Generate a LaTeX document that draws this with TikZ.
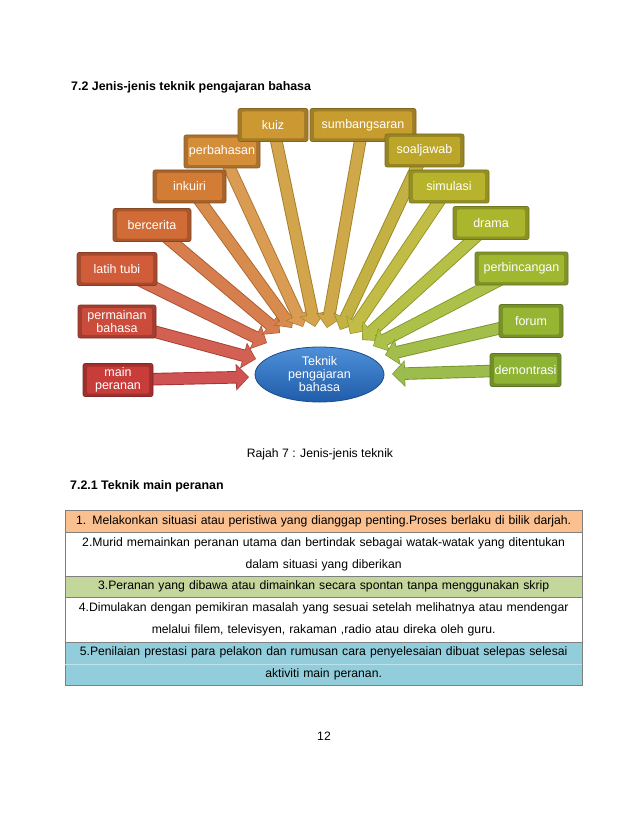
\documentclass[tikz,border=0pt]{standalone}
\usepackage{fontspec}
\setmainfont{Liberation Sans}
\usetikzlibrary{arrows.meta,shapes.geometric}
\pgfdeclarelayer{background}
\pgfsetlayers{background,main}
\definecolor{b1}{HTML}{C83C3A}
\definecolor{b2}{HTML}{CC4C3C}
\definecolor{b3}{HTML}{D05C3A}
\definecolor{b4}{HTML}{D26C36}
\definecolor{b5}{HTML}{D27C36}
\definecolor{b6}{HTML}{D48E3A}
\definecolor{b7}{HTML}{CC9832}
\definecolor{b8}{HTML}{C89D30}
\definecolor{b9}{HTML}{BBA62A}
\definecolor{b10}{HTML}{B8B32C}
\definecolor{b11}{HTML}{ACB62D}
\definecolor{b12}{HTML}{A0B830}
\definecolor{b13}{HTML}{96B532}
\definecolor{b14}{HTML}{8FB435}
\definecolor{rowA}{HTML}{FAC090}
\definecolor{rowC}{HTML}{C3D69B}
\definecolor{rowE}{HTML}{92CDDC}
\definecolor{tabline}{HTML}{7F7F7F}
\definecolor{ellTop}{HTML}{4F8FD8}
\definecolor{ellBot}{HTML}{1F5CAA}
\definecolor{ellLine}{HTML}{1A4C8C}
\tikzset{
  tbox/.style={rectangle, rounded corners=2pt, fill=#1!80!black, draw=#1!65!black,
    line width=0.6pt, text=white, font=\fontsize{12.5}{13}\selectfont, align=center,
    inner sep=0pt, minimum height=33pt,
    path picture={\fill[#1] ([shift={(4pt,3pt)}]path picture bounding box.south west)
      rectangle ([shift={(-4pt,-3pt)}]path picture bounding box.north east);}},
  arrout/.style={draw=#1!82!black, line width=12.5pt, -{Triangle[length=13pt,width=26pt]}},
  arrin/.style={draw=#1!88!white, line width=10.7pt, -{Triangle[length=11.5pt,width=23pt]}, shorten >=0.9pt},
  tabrow/.style={draw=tabline, line width=0.6pt, inner sep=0pt, text width=517.3pt,
    align=center, font=\fontsize{12.2}{22}\selectfont, anchor=north west},
  plain/.style={inner sep=0pt, font=\fontsize{12.2}{14}\selectfont},
  headb/.style={inner sep=0pt, font=\fontsize{12.4}{14}\selectfont\bfseries, anchor=base west}
}
\newcommand\fanarrow[3]{\draw[arrout=#1] (#2.center) -- (#3);\draw[arrin=#1] (#2.center) -- (#3);}
\begin{document}
\begin{tikzpicture}[x=1pt,y=-1pt]
\useasboundingbox (0,0) rectangle (638,826);
% headings
\node[headb] (h1) at (71,90.5) {7.2 Jenis-jenis teknik pengajaran bahasa};
% boxes
\node[tbox=b1, minimum width=70pt] (mainp) at (118,380) {main\\peranan};
\node[tbox=b2, minimum width=78pt] (perm) at (117,321.5) {permainan\\bahasa};
\node[tbox=b3, minimum width=80pt] (latih) at (117,269) {latih tubi};
\node[tbox=b4, minimum width=78pt] (berc) at (152,225) {bercerita};
\node[tbox=b5, minimum width=73pt] (inku) at (189.5,186.5) {inkuiri};
\node[tbox=b6, minimum width=76pt] (perb) at (222,151.5) {perbahasan};
\node[tbox=b7, minimum width=70pt] (kuiz) at (273,125) {kuiz};
\node[tbox=b8, minimum width=106pt] (sumb) at (363,125) {sumbangsaran};
\node[tbox=b9, minimum width=79pt] (soal) at (424.5,150.5) {soaljawab};
\node[tbox=b10, minimum width=80pt] (simu) at (449,186.5) {simulasi};
\node[tbox=b11, minimum width=76pt] (drama) at (491,223) {drama};
\node[tbox=b12, minimum width=93pt] (pbc) at (521.5,268.5) {perbincangan};
\node[tbox=b13, minimum width=64pt] (forum) at (531,321) {forum};
\node[tbox=b14, minimum width=71pt] (demo) at (525.5,370) {demontrasi};
% centre
\node[ellipse, minimum width=129pt, minimum height=55pt, inner sep=0pt,
  top color=ellTop, bottom color=ellBot,
  draw=ellLine, line width=0.8pt, text=white, align=center,
  font=\fontsize{12.5}{13}\selectfont] (tek) at (319.5,374.5) {Teknik\\pengajaran\\bahasa};
% arrow tips
\coordinate (tmain) at (249,377);
\coordinate (tperm) at (256,359);
\coordinate (tlat) at (267,343);
\coordinate (tber) at (280,333);
\coordinate (tink) at (292,328);
\coordinate (tperb) at (303,327);
\coordinate (tkuiz) at (315,327);
\coordinate (tsumb) at (327,328);
\coordinate (tsoal) at (340,330);
\coordinate (tsim) at (350,334);
\coordinate (tdra) at (362,340);
\coordinate (tpbc) at (373,346);
\coordinate (tfor) at (385,355);
\coordinate (tdem) at (392,374);
\begin{pgfonlayer}{background}
\fill[white] (0,0) rectangle (638,826);
\fanarrow{b1}{mainp}{tmain}
\fanarrow{b2}{perm}{tperm}
\fanarrow{b3}{latih}{tlat}
\fanarrow{b4}{berc}{tber}
\fanarrow{b5}{inku}{tink}
\fanarrow{b6}{perb}{tperb}
\fanarrow{b7}{kuiz}{tkuiz}
\fanarrow{b8}{sumb}{tsumb}
\fanarrow{b9}{soal}{tsoal}
\fanarrow{b10}{simu}{tsim}
\fanarrow{b11}{drama}{tdra}
\fanarrow{b12}{pbc}{tpbc}
\fanarrow{b13}{forum}{tfor}
\fanarrow{b14}{demo}{tdem}
\end{pgfonlayer}
% caption
\node[plain, anchor=base] (cap) at (320,457) {Rajah 7 : Jenis-jenis teknik};
\node[headb] (h2) at (70,489.3) {7.2.1 Teknik main peranan};
% table
\node[tabrow, fill=rowA, minimum height=22pt] (r1) at (64.7,510) {1. Melakonkan situasi atau peristiwa yang dianggap penting.Proses berlaku di bilik darjah.};
\node[tabrow, fill=white, minimum height=44pt] (r2) at (64.7,532) {2.Murid memainkan peranan utama dan bertindak sebagai watak-watak yang ditentukan\\dalam situasi yang diberikan};
\node[tabrow, fill=rowC, minimum height=21pt] (r3) at (64.7,576) {3.Peranan yang dibawa atau dimainkan secara spontan tanpa menggunakan skrip};
\node[tabrow, fill=white, minimum height=45pt] (r4) at (64.7,597) {4.Dimulakan dengan pemikiran masalah yang sesuai setelah melihatnya atau mendengar\\melalui filem, televisyen, rakaman ,radio atau direka oleh guru.};
\node[tabrow, fill=rowE, minimum height=43pt] (r5) at (64.7,642) {5.Penilaian prestasi para pelakon dan rumusan cara penyelesaian dibuat selepas selesai\\aktiviti main peranan.};
\draw[rowE!60!white, line width=0.6pt] ([xshift=0.5pt]r5.west) -- ([xshift=-0.5pt]r5.east);
% page number
\node[plain, anchor=base] (pg) at (324,740) {12};
\end{tikzpicture}
\end{document}
